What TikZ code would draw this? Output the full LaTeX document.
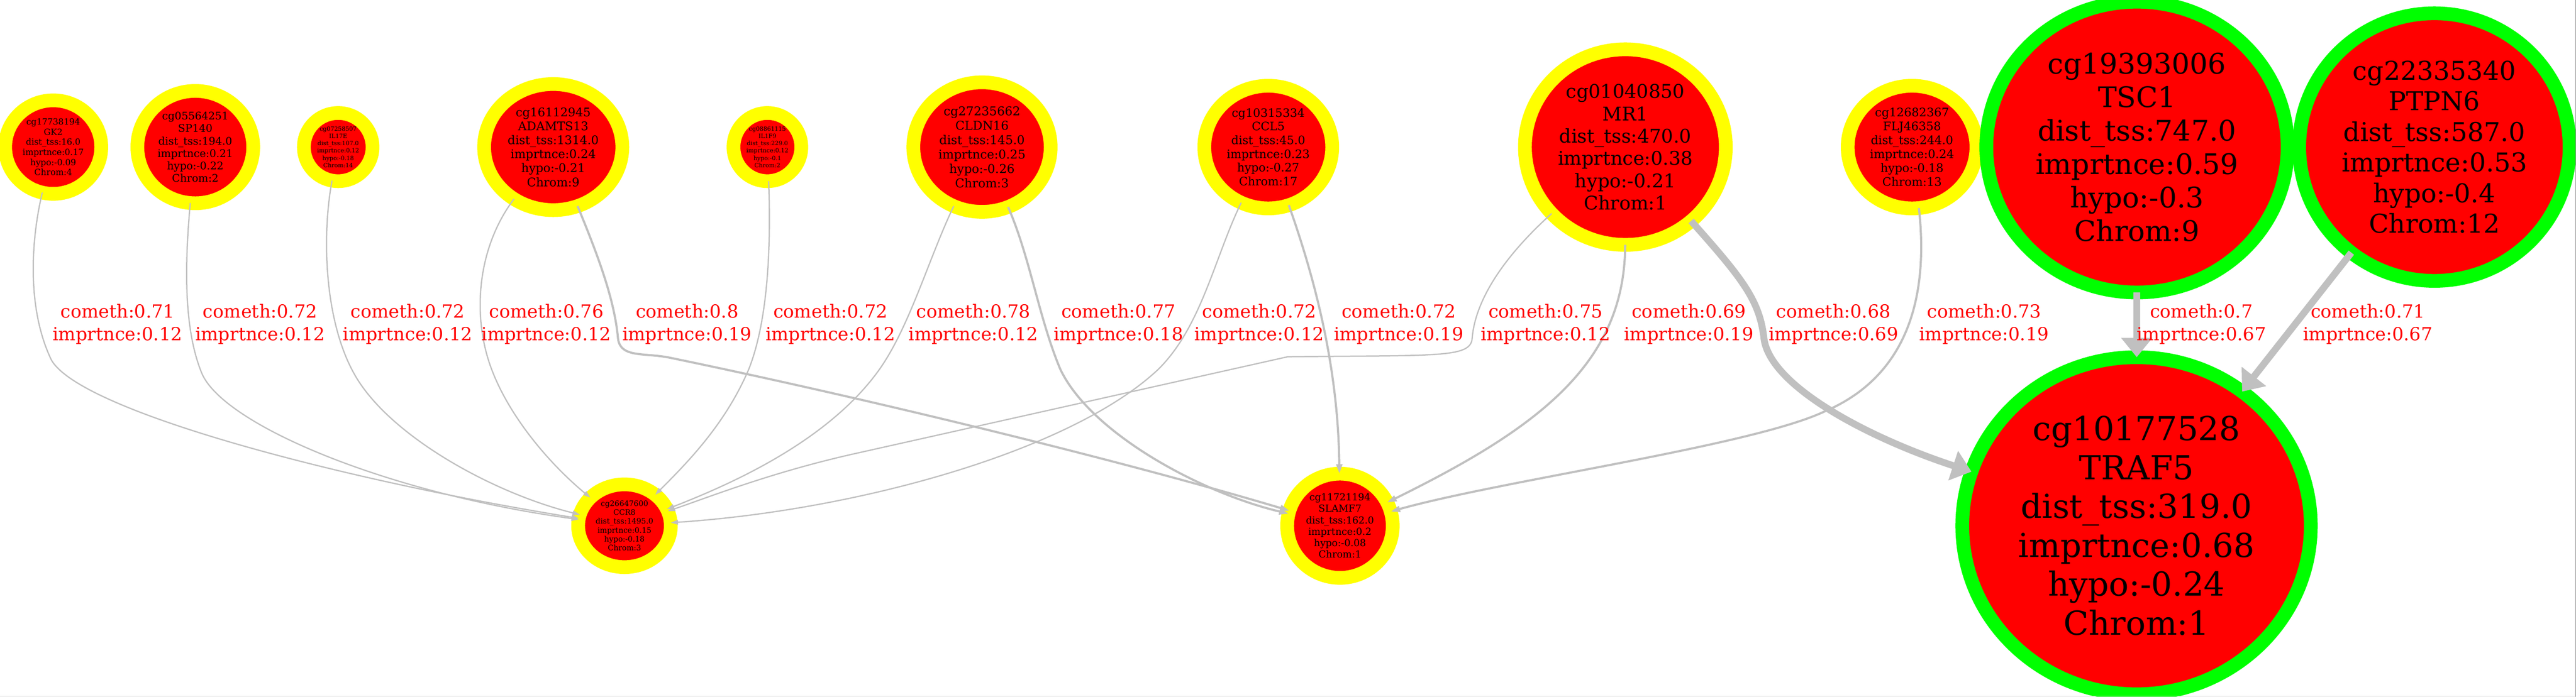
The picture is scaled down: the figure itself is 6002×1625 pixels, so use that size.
\documentclass[tikz,border=0pt]{standalone}
\usepackage{fontspec}
\setmainfont{DejaVu Serif}
\usetikzlibrary{shapes.geometric, arrows.meta}
\definecolor{probered}{HTML}{FF0000}
\definecolor{probeyellow}{HTML}{FFFF00}
\definecolor{hubgreen}{HTML}{00FF00}
\definecolor{linkgray}{HTML}{C0C0C0}
\definecolor{labelred}{HTML}{FF0000}
\definecolor{framegray}{HTML}{8A8A8A}
\definecolor{framelight}{HTML}{D8D8D8}
\tikzset{
  probe/.style={ellipse, draw=probeyellow, fill=probered, line width=3.2mm, inner sep=0pt, outer sep=0pt, align=center, text=black},
  hub/.style={probe, draw=hubgreen},
  cmlabel/.style={text=labelred, align=center, inner sep=0pt, font=\fontsize{12}{14.8}\selectfont},
  thinlink/.style={draw=linkgray, line width=0.3mm, -{Triangle[length=1.7mm,width=1.1mm]}},
  midlink/.style={draw=linkgray, line width=0.5mm, -{Triangle[length=2.2mm,width=1.4mm]}},
  fatlink/.style={draw=linkgray, line width=1.6mm, -{Triangle[length=4.5mm,width=7mm]}},
}

\begin{document}
\begin{tikzpicture}[x=0.1mm,y=-0.1mm]
  \useasboundingbox (0,0) rectangle (6002,1625);

  \node[probe, minimum width=22.4mm, minimum height=21.8mm, font=\fontsize{5.67}{6.69}\selectfont] (gk2) at (124,343)
    {cg17738194\\GK2\\dist\_tss:16.0\\imprtnce:0.17\\hypo:-0.09\\Chrom:4};
  \node[probe, minimum width=27mm, minimum height=26.2mm, font=\fontsize{6.99}{8.25}\selectfont] (sp140) at (455,343)
    {cg05564251\\SP140\\dist\_tss:194.0\\imprtnce:0.21\\hypo:-0.22\\Chrom:2};
  \node[probe, minimum width=16mm, minimum height=15.9mm, font=\fontsize{3.9}{4.84}\selectfont] (il17e) at (788,343)
    {cg07258507\\IL17E\\dist\_tss:107.0\\imprtnce:0.12\\hypo:-0.18\\Chrom:14};
  \node[probe, minimum width=32.2mm, minimum height=29.4mm, font=\fontsize{7.9}{9.3}\selectfont] (adamts13) at (1289,343)
    {cg16112945\\ADAMTS13\\dist\_tss:1314.0\\imprtnce:0.24\\hypo:-0.21\\Chrom:9};
  \node[probe, minimum width=15.8mm, minimum height=15.9mm, font=\fontsize{3.9}{4.84}\selectfont] (il1f9) at (1788,343)
    {cg08861115\\IL1F9\\dist\_tss:229.0\\imprtnce:0.12\\hypo:-0.1\\Chrom:2};
  \node[probe, minimum width=32mm, minimum height=30.2mm, font=\fontsize{8.08}{9.53}\selectfont] (cldn16) at (2288,343)
    {cg27235662\\CLDN16\\dist\_tss:145.0\\imprtnce:0.25\\hypo:-0.26\\Chrom:3};
  \node[probe, minimum width=29.8mm, minimum height=28.6mm, font=\fontsize{7.7}{9.1}\selectfont] (ccl5) at (2955,343)
    {cg10315334\\CCL5\\dist\_tss:45.0\\imprtnce:0.23\\hypo:-0.27\\Chrom:17};
  \node[probe, minimum width=46.8mm, minimum height=45.6mm, font=\fontsize{12.5}{14.8}\selectfont] (mr1) at (3787,343)
    {cg01040850\\MR1\\dist\_tss:470.0\\imprtnce:0.38\\hypo:-0.21\\Chrom:1};
  \node[probe, minimum width=30mm, minimum height=28.6mm, font=\fontsize{7.8}{9.2}\selectfont] (flj46358) at (4455,343)
    {cg12682367\\FLJ46358\\dist\_tss:244.0\\imprtnce:0.24\\hypo:-0.18\\Chrom:13};
  \node[hub, minimum width=70.2mm, minimum height=67.8mm, font=\fontsize{18.8}{22.2}\selectfont] (tsc1) at (4979,343)
    {cg19393006\\TSC1\\dist\_tss:747.0\\imprtnce:0.59\\hypo:-0.3\\Chrom:9};
  \node[hub, minimum width=63mm, minimum height=62.4mm, font=\fontsize{17.2}{20.3}\selectfont] (ptpn6) at (5672,343)
    {cg22335340\\PTPN6\\dist\_tss:587.0\\imprtnce:0.53\\hypo:-0.4\\Chrom:12};
  \node[probe, minimum width=21.6mm, minimum height=19.3mm, font=\fontsize{5.0}{5.92}\selectfont] (ccr8) at (1455,1226)
    {cg26647600\\CCR8\\dist\_tss:1495.0\\imprtnce:0.15\\hypo:-0.18\\Chrom:3};
  \node[probe, minimum width=24.6mm, minimum height=24.3mm, font=\fontsize{6.44}{7.6}\selectfont] (slamf7) at (3122,1226)
    {cg11721194\\SLAMF7\\dist\_tss:162.0\\imprtnce:0.2\\hypo:-0.08\\Chrom:1};
  \node[hub, minimum width=81.2mm, minimum height=78.6mm, font=\fontsize{21.9}{25.8}\selectfont] (traf5) at (4978,1226)
    {cg10177528\\TRAF5\\dist\_tss:319.0\\imprtnce:0.68\\hypo:-0.24\\Chrom:1};

  \draw[thinlink] (gk2) .. controls (72,560) and (62,720) .. (120,840) .. controls (190,960) and (800,1120) .. (ccr8);
  \draw[thinlink] (sp140) .. controls (432,600) and (425,760) .. (470,870) .. controls (520,990) and (900,1150) .. (ccr8);
  \draw[thinlink] (il17e) .. controls (748,560) and (758,760) .. (830,880) .. controls (914,1020) and (1150,1150) .. (ccr8);
  \draw[thinlink] (adamts13) .. controls (1110,580) and (1100,740) .. (1145,860) .. controls (1190,980) and (1290,1090) .. (ccr8);
  \draw[midlink] (adamts13) .. controls (1395,600) and (1432,700) .. (1440,790) .. controls (1446,835) and (1500,822) .. (1560,834) .. controls (2000,925) and (2600,1070) .. (slamf7);
  \draw[thinlink] (il1f9) .. controls (1796,560) and (1792,740) .. (1745,860) .. controls (1690,990) and (1600,1080) .. (ccr8);
  \draw[thinlink] (cldn16) .. controls (2165,600) and (2120,760) .. (2050,860) .. controls (1930,1030) and (1700,1130) .. (ccr8);
  \draw[midlink] (cldn16) .. controls (2400,600) and (2420,740) .. (2470,860) .. controls (2540,1010) and (2800,1150) .. (slamf7);
  \draw[thinlink] (ccl5) .. controls (2830,600) and (2800,760) .. (2700,860) .. controls (2500,1050) and (2000,1190) .. (ccr8);
  \draw[midlink] (ccl5) .. controls (3060,640) and (3118,850) .. (slamf7);
  \draw[thinlink] (mr1) .. controls (3480,620) and (3435,720) .. (3430,790) .. controls (3425,835) and (3350,828) .. (3000,832) -- (2000,1056) .. controls (1800,1100) and (1650,1160) .. (ccr8);
  \draw[midlink] (mr1) .. controls (3786,850) and (3580,1000) .. (slamf7);
  \draw[fatlink] (mr1) .. controls (4060,650) and (4100,700) .. (4110,790) .. controls (4125,900) and (4350,1020) .. (traf5);
  \draw[midlink] (flj46358) .. controls (4495,700) and (4440,880) .. (4250,960) .. controls (4080,1040) and (3500,1120) .. (slamf7);
  \draw[fatlink] (tsc1) -- (traf5);
  \draw[fatlink] (ptpn6) -- (traf5);

  \node[cmlabel] (cm1) at (274,756) {cometh:0.71\\imprtnce:0.12};
  \node[cmlabel] (cm2) at (606,756) {cometh:0.72\\imprtnce:0.12};
  \node[cmlabel] (cm3) at (950,756) {cometh:0.72\\imprtnce:0.12};
  \node[cmlabel] (cm4) at (1273,756) {cometh:0.76\\imprtnce:0.12};
  \node[cmlabel] (cm5) at (1601,756) {cometh:0.8\\imprtnce:0.19};
  \node[cmlabel] (cm6) at (1935,756) {cometh:0.72\\imprtnce:0.12};
  \node[cmlabel] (cm7) at (2268,756) {cometh:0.78\\imprtnce:0.12};
  \node[cmlabel] (cm8) at (2606,756) {cometh:0.77\\imprtnce:0.18};
  \node[cmlabel] (cm9) at (2934,756) {cometh:0.72\\imprtnce:0.12};
  \node[cmlabel] (cm10) at (3259,756) {cometh:0.72\\imprtnce:0.19};
  \node[cmlabel] (cm11) at (3601,756) {cometh:0.75\\imprtnce:0.12};
  \node[cmlabel] (cm12) at (3935,756) {cometh:0.69\\imprtnce:0.19};
  \node[cmlabel] (cm13) at (4272,756) {cometh:0.68\\imprtnce:0.69};
  \node[cmlabel] (cm14) at (4623,756) {cometh:0.73\\imprtnce:0.19};
  \node[cmlabel] (cm15) at (5129,756) {cometh:0.7\\imprtnce:0.67};
  \node[cmlabel] (cm16) at (5517,756) {cometh:0.71\\imprtnce:0.67};

  \draw[framegray, line width=0.12mm] (6001,0) -- (6001,1625);
  \draw[framelight, line width=0.12mm] (0,1624) -- (6002,1624);
\end{tikzpicture}
\end{document}
